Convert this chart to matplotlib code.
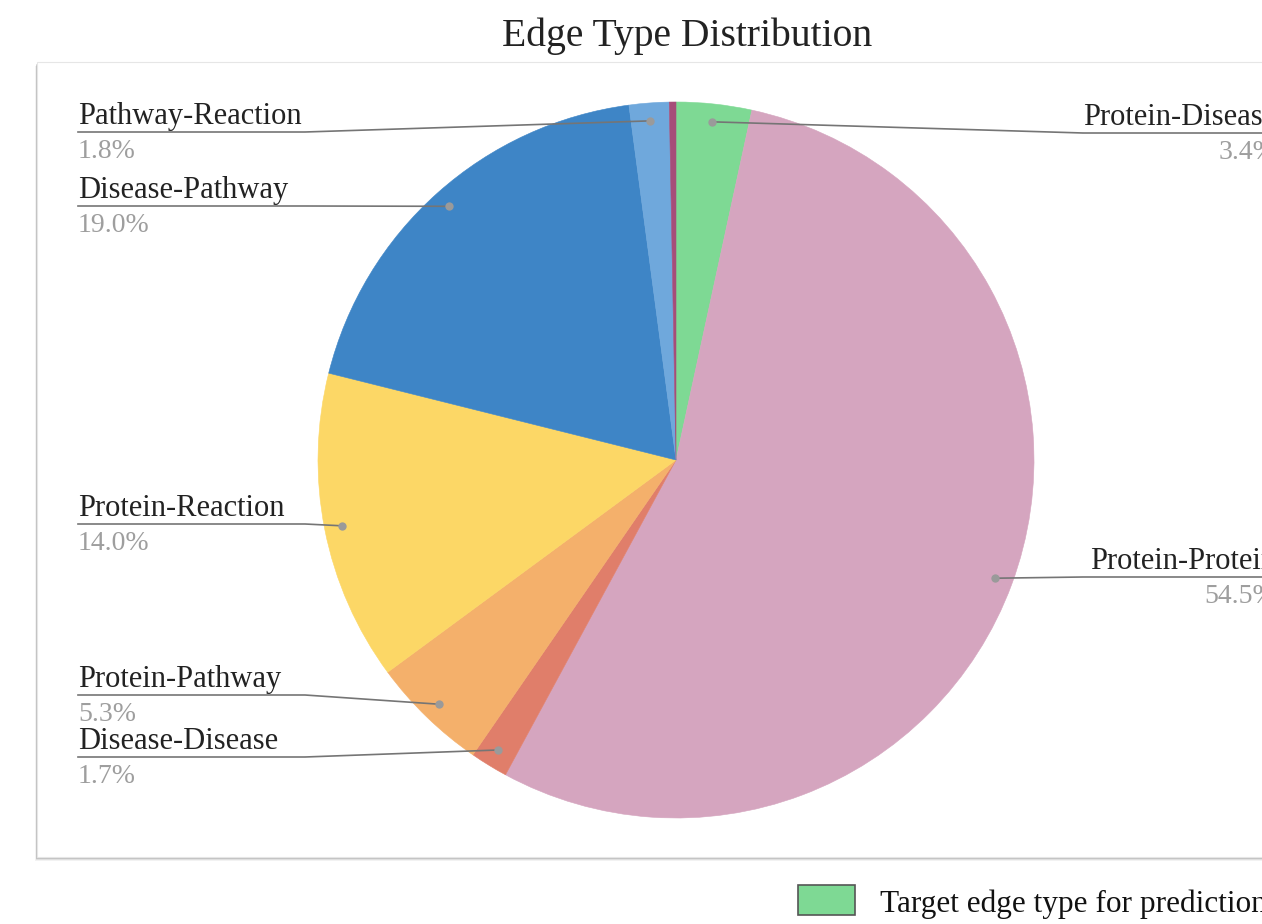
import numpy as np
import matplotlib.pyplot as plt
from matplotlib.patches import Rectangle

plt.rcParams['font.family'] = ['Liberation Serif', 'DejaVu Serif']

# slices, clockwise from 12 o'clock
labels = ["Protein-Disease", "Protein-Protein", "Disease-Disease", "Protein-Pathway",
          "Protein-Reaction", "Disease-Pathway", "Pathway-Reaction", "Other"]
values = [3.4, 54.5, 1.7, 5.3, 14.0, 19.0, 1.8, 0.3]
colors = ["#7ed994", "#d5a5bf", "#e07e6a", "#f4b06b",
          "#fcd766", "#3e85c6", "#6fa8dc", "#a64d79"]

# where each label sits: side and y of its leader line (pixels from top)
label_side = {"Pathway-Reaction": ("L", 132), "Disease-Pathway": ("L", 206),
              "Protein-Reaction": ("L", 524), "Protein-Pathway": ("L", 695),
              "Disease-Disease": ("L", 757), "Protein-Disease": ("R", 133),
              "Protein-Protein": ("R", 577)}

W, H = 1262, 924
fig = plt.figure(figsize=(W / 100, H / 100), dpi=100)
ax = fig.add_axes([0, 0, 1, 1])

def Y(y):
    return H - y

# card with soft shadow (it runs past the right edge, like the source screenshot)
for off, a in [(4, 0.05), (3, 0.08), (2, 0.12), (1, 0.18)]:
    ax.add_patch(Rectangle((37 - off * 0.5, Y(857 + off)), 1300, 795, facecolor='black',
                           alpha=a, edgecolor='none', zorder=0.2))
ax.add_patch(Rectangle((37, Y(857)), 1300, 795, facecolor='white',
                       edgecolor='#e6e6e6', lw=0.8, zorder=0.3))

cx, cy, R = 676, Y(460), 358
wedges, _ = ax.pie(values, colors=colors, startangle=90, counterclock=False,
                   center=(cx, cy), radius=R, wedgeprops=dict(linewidth=0.4))
for w in wedges:
    w.set_edgecolor(w.get_facecolor())

line_c = '#757575'
for w, lab, v in zip(wedges, labels, values):
    if lab not in label_side:
        continue
    side, ly = label_side[lab]
    th = np.deg2rad((w.theta1 + w.theta2) / 2)
    dx, dy = cx + 0.95 * R * np.cos(th), cy + 0.95 * R * np.sin(th)
    if side == "L":
        ax.plot([78, 305, dx], [Y(ly), Y(ly), dy], color=line_c, lw=1.2, zorder=3)
        ax.text(78, Y(ly - 8), lab, fontsize=22, color='#222222', ha='left', va='baseline')
        ax.text(78, Y(ly + 26), f"{v:.1f}%", fontsize=20, color='#9e9e9e', ha='left', va='baseline')
    else:
        ax.plot([dx, 1083, 1300], [dy, Y(ly), Y(ly)], color=line_c, lw=1.2, zorder=3)
        ax.text(1276, Y(ly - 8), lab, fontsize=22, color='#222222', ha='right', va='baseline')
        ax.text(1276, Y(ly + 26), f"{v:.1f}%", fontsize=20, color='#9e9e9e', ha='right', va='baseline')
    ax.plot(dx, dy, 'o', ms=6, color='#9a9a9a', mec='none', zorder=4)

ax.text(687, Y(46), "Edge Type Distribution", fontsize=28.5, color='#222222',
        ha='center', va='baseline')

# legend
ax.add_patch(Rectangle((798, Y(915)), 57, 30, facecolor=colors[0],
                       edgecolor='#555555', lw=1.2, zorder=3))
ax.text(880, Y(912), "Target edge type for prediction", fontsize=22.5, color='#111111',
        ha='left', va='baseline')

ax.set_xlim(0, W)
ax.set_ylim(0, H)
ax.set_aspect('auto')
ax.axis('off')

fig.savefig("out.png", dpi=100, facecolor='white')
